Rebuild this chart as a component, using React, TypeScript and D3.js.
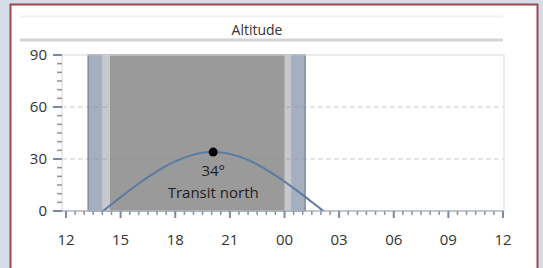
import React from "react";
import * as d3 from "d3";

// ---- data ----
const xTickLabels = ["12", "15", "18", "21", "00", "03", "06", "09", "12"];
const yTickValues = [0, 30, 60, 90];
// object altitude (degrees) by local time
const altTimes = [
  "14:00", "14:30", "15:00", "15:30", "16:00", "16:30", "17:00", "17:30", "18:00", "18:30",
  "19:00", "19:30", "20:00", "20:30", "21:00", "21:30", "22:00", "22:30", "23:00", "23:30",
  "00:00", "00:30", "01:00", "01:30", "02:00", "02:30", "03:00",
];
const altValues = [
  -0.3, 3.9, 8.0, 12.0, 15.9, 19.5, 22.9, 26.0, 28.6, 30.8,
  32.5, 33.6, 34.0, 33.8, 32.9, 31.4, 29.4, 26.9, 23.9, 20.6,
  17.0, 13.2, 9.3, 5.2, 1.1, -2.8, -6.8,
];
// night periods: outer twilight, inner twilight, darkness
const bandStarts = ["13:13", "13:59", "14:25"];
const bandEnds = ["01:08", "00:22", "00:00"];
const transitTime = "20:05";
const transitAltitude = 34;
const transitLabel = "Transit north";
const title = "Altitude";

// ---- helpers ----
const toHours = (t: string) => {
  const [h, m] = t.split(":").map(Number);
  return ((h - 12 + 24) % 24) + m / 60;
};

const W = 543;
const H = 268;
const plot = { left: 62, right: 504, top: 55, bottom: 211 };
const x = d3.scaleLinear().domain([0, 24]).range([66, 503]);
const y = d3.scaleLinear().domain([0, 90]).range([plot.bottom, plot.top]);

const bandFill = ["#a6afc0", "#c6c8ce", "#9a9a9a"];
const FONT = "'Open Sans', 'Noto Sans', sans-serif";

export default function App() {
  const pts = altTimes.map((t, i) => [toHours(t), altValues[i]] as [number, number]);
  const line = d3
    .line<[number, number]>()
    .x((d) => x(d[0]))
    .y((d) => y(d[1]))
    .curve(d3.curveMonotoneX);

  const minorX = d3.range(0, 24.001, 0.5);
  const minorY = d3.range(0, 90.001, 5);
  const tx = x(toHours(transitTime));
  const ty = y(transitAltitude);

  return (
    <svg
      width={W}
      height={H}
      style={{ position: "fixed", left: 0, top: 0, display: "block" }}
      fontFamily={FONT}
    >
      <rect x={0} y={0} width={W} height={H} fill="#d5dde9" />
      <rect x={10.5} y={4.5} width={527} height={H + 10} fill="#ffffff" stroke="#9b4a4c" strokeWidth={2} />
      <line x1={20} x2={503} y1={16.5} y2={16.5} stroke="#f1f1f1" strokeWidth={2} />
      <text x={257} y={35} textAnchor="middle" fontSize={14} fill="#333">
        {title}
      </text>
      <line x1={20} x2={503} y1={40} y2={40} stroke="#d4d4d4" strokeWidth={3} />

      <defs>
        <clipPath id="plotclip">
          <rect x={plot.left} y={plot.top} width={plot.right - plot.left} height={plot.bottom - plot.top} />
        </clipPath>
      </defs>

      {/* night bands */}
      {bandStarts.map((s, i) => (
        <rect
          key={i}
          x={x(toHours(s))}
          y={plot.top}
          width={x(toHours(bandEnds[i])) - x(toHours(s))}
          height={plot.bottom - plot.top}
          fill={bandFill[i]}
          stroke={i === 0 ? "#7d8ca3" : "none"}
          strokeWidth={1.5}
        />
      ))}

      {/* grid */}
      {yTickValues
        .filter((v) => v > 0 && v < 90)
        .map((v) => (
          <line
            key={v}
            x1={plot.left}
            x2={plot.right}
            y1={y(v)}
            y2={y(v)}
            stroke="#8c8c8c"
            strokeOpacity={0.45}
            strokeDasharray="5,3"
          />
        ))}

      {/* frame */}
      <rect
        x={plot.left}
        y={plot.top}
        width={plot.right - plot.left}
        height={plot.bottom - plot.top}
        fill="none"
        stroke="#d8d8d8"
      />

      {/* altitude curve */}
      <path d={line(pts) || ""} fill="none" stroke="#5a7ca3" strokeWidth={2} clipPath="url(#plotclip)" />

      {/* transit */}
      <circle cx={tx} cy={ty} r={4.5} fill="#000" />
      <text x={tx} y={176} textAnchor="middle" fontSize={15} fill="#222">
        {transitAltitude}°
      </text>
      <text x={tx} y={198} textAnchor="middle" fontSize={15} fill="#222">
        {transitLabel}
      </text>

      {/* axes */}
      <line x1={plot.left} x2={plot.right} y1={plot.bottom} y2={plot.bottom} stroke="#9aa3b1" />
      {minorY.map((v) => (
        <line
          key={"my" + v}
          x1={v % 30 === 0 ? 53 : 57}
          x2={62}
          y1={y(v)}
          y2={y(v)}
          stroke={v % 30 === 0 ? "#7a8aa2" : "#8a93a2"}
          strokeWidth={v % 30 === 0 ? 2 : 1.5}
        />
      ))}
      {minorX.map((v) => (
        <line
          key={"mx" + v}
          x1={x(v)}
          x2={x(v)}
          y1={plot.bottom}
          y2={v % 3 === 0 ? 218 : 215}
          stroke={v % 3 === 0 ? "#7a8aa2" : "#8a93a2"}
          strokeWidth={v % 3 === 0 ? 2 : 1.5}
        />
      ))}
      {yTickValues.map((v) => (
        <text key={"yl" + v} x={47} y={y(v) + 5} textAnchor="end" fontSize={15} fill="#333">
          {v}
        </text>
      ))}
      {xTickLabels.map((l, i) => (
        <text key={"xl" + i} x={x(i * 3)} y={245} textAnchor="middle" fontSize={15} fill="#333">
          {l}
        </text>
      ))}
    </svg>
  );
}
